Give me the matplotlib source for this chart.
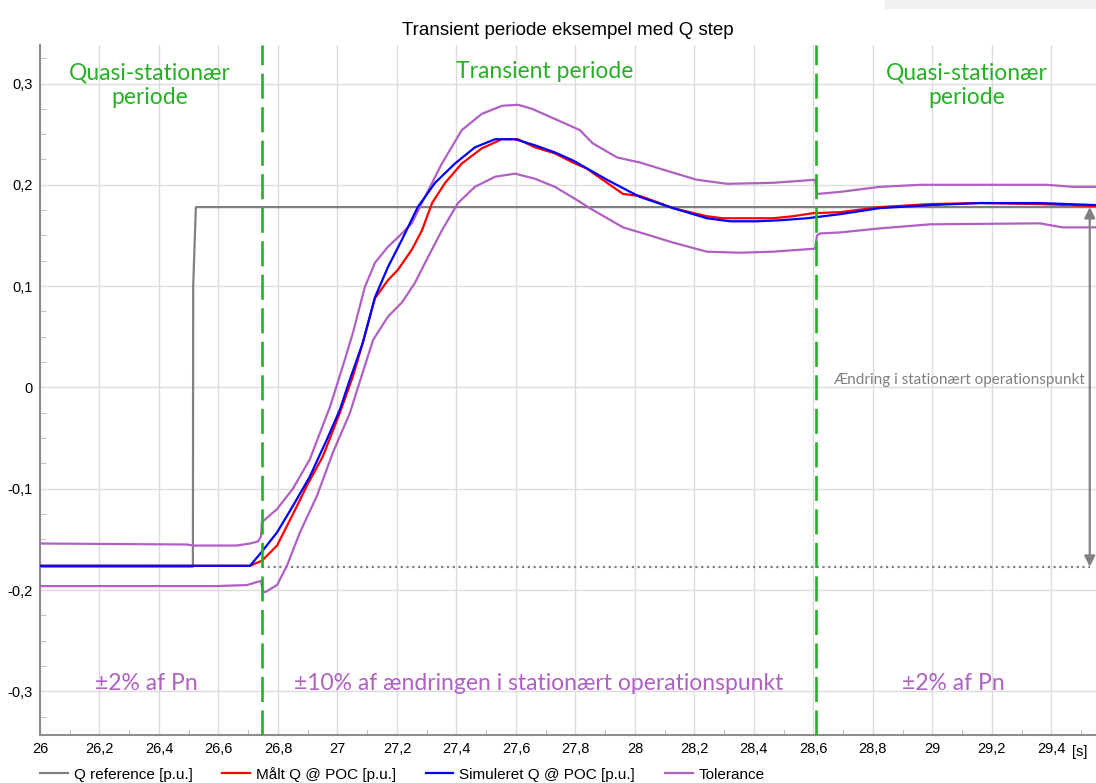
import numpy as np
import matplotlib
matplotlib.use("Agg")
import matplotlib.pyplot as plt
from matplotlib.ticker import MultipleLocator, FuncFormatter
from matplotlib.transforms import blended_transform_factory
from matplotlib.patches import Rectangle

# Q step test, time in seconds, reactive power in p.u.
t_ref = [26.0, 26.514, 26.515, 26.524, 29.55]
q_ref = [-0.177, -0.177, 0.10, 0.178, 0.178]

t_meas = [26.0, 26.706, 26.746, 26.797, 26.864, 26.897, 26.951, 27.008, 27.052, 27.085,
          27.126, 27.170, 27.203, 27.250, 27.284, 27.318, 27.362, 27.418, 27.485, 27.553,
          27.607, 27.664, 27.731, 27.792, 27.838, 27.906, 27.960, 28.017, 28.074, 28.128,
          28.242, 28.296, 28.464, 28.531, 28.598, 28.689, 28.823, 28.992, 29.160, 29.361, 29.55]
q_meas = [-0.176, -0.176, -0.171, -0.156, -0.117, -0.097, -0.068, -0.025, 0.011, 0.044,
          0.088, 0.106, 0.116, 0.136, 0.155, 0.182, 0.202, 0.221, 0.236, 0.245,
          0.245, 0.237, 0.231, 0.222, 0.216, 0.202, 0.191, 0.189, 0.183, 0.177,
          0.169, 0.167, 0.167, 0.169, 0.172, 0.173, 0.178, 0.181, 0.182, 0.181, 0.179]

t_sim = [26.0, 26.706, 26.746, 26.797, 26.850, 26.907, 26.965, 27.008, 27.042, 27.085,
         27.126, 27.170, 27.217, 27.270, 27.328, 27.395, 27.462, 27.530, 27.597, 27.664,
         27.731, 27.792, 27.906, 28.017, 28.128, 28.242, 28.320, 28.410, 28.487, 28.578,
         28.689, 28.823, 28.992, 29.160, 29.361, 29.55]
q_sim = [-0.176, -0.176, -0.162, -0.143, -0.117, -0.088, -0.051, -0.022, 0.008, 0.044,
         0.089, 0.119, 0.146, 0.178, 0.202, 0.221, 0.237, 0.245, 0.245, 0.239,
         0.232, 0.224, 0.205, 0.188, 0.177, 0.167, 0.164, 0.164, 0.165, 0.167,
         0.171, 0.177, 0.180, 0.182, 0.182, 0.180]

t_tol_hi = [26.0, 26.494, 26.515, 26.662, 26.706, 26.733, 26.743, 26.746, 26.797, 26.850,
            26.907, 26.975, 27.018, 27.052, 27.092, 27.126, 27.170, 27.203, 27.250, 27.294,
            27.351, 27.418, 27.485, 27.553, 27.607, 27.654, 27.731, 27.815, 27.858, 27.940,
            28.017, 28.128, 28.208, 28.310, 28.464, 28.606, 28.612, 28.689, 28.823, 28.958,
            29.385, 29.472, 29.55]
q_tol_hi = [-0.154, -0.155, -0.156, -0.156, -0.154, -0.152, -0.147, -0.133, -0.120, -0.100,
            -0.071, -0.019, 0.021, 0.054, 0.099, 0.123, 0.139, 0.148, 0.162, 0.188,
            0.221, 0.254, 0.270, 0.278, 0.279, 0.275, 0.265, 0.254, 0.241, 0.227,
            0.222, 0.212, 0.205, 0.201, 0.202, 0.205, 0.191, 0.193, 0.198, 0.200,
            0.200, 0.198, 0.198]

t_tol_lo = [26.0, 26.595, 26.696, 26.730, 26.743, 26.749, 26.757, 26.797, 26.830, 26.874,
            26.931, 26.985, 27.042, 27.085, 27.120, 27.170, 27.217, 27.260, 27.305, 27.351,
            27.405, 27.462, 27.530, 27.597, 27.664, 27.731, 27.805, 27.848, 27.960, 28.017,
            28.128, 28.242, 28.353, 28.464, 28.606, 28.612, 28.622, 28.689, 28.823, 28.992,
            29.361, 29.438, 29.55]
q_tol_lo = [-0.196, -0.196, -0.195, -0.192, -0.191, -0.201, -0.202, -0.195, -0.176, -0.143,
            -0.107, -0.064, -0.025, 0.015, 0.047, 0.070, 0.084, 0.103, 0.129, 0.155,
            0.182, 0.198, 0.208, 0.211, 0.206, 0.198, 0.185, 0.177, 0.158, 0.153,
            0.143, 0.134, 0.133, 0.134, 0.137, 0.150, 0.152, 0.153, 0.157, 0.161,
            0.162, 0.158, 0.158]

t_transient_start = 26.746
t_transient_end = 28.61
q_start = -0.177
q_end = 0.178

x_ticks = [26, 26.2, 26.4, 26.6, 26.8, 27, 27.2, 27.4, 27.6, 27.8,
           28, 28.2, 28.4, 28.6, 28.8, 29, 29.2, 29.4]

GREEN = "#25b025"
PURPLE = "#b060c4"
GREY = "#808080"
TEXT_FONT = ["Lato", "DejaVu Sans"]

plt.rcParams["font.family"] = ["Liberation Sans", "DejaVu Sans"]

fig = plt.figure(figsize=(10.96, 7.83), dpi=100)
ax = fig.add_axes([40 / 1096, 1 - 735 / 783, 1 - 40 / 1096, (735 - 45) / 783])

ax.plot(t_ref, q_ref, color=GREY, lw=1.6, label="Q reference [p.u.]", zorder=3)
ax.plot(t_meas, q_meas, color="#ff0000", lw=1.6, label="Målt Q @ POC [p.u.]", zorder=5)
ax.plot(t_sim, q_sim, color="#0000ff", lw=1.6, label="Simuleret Q @ POC [p.u.]", zorder=6)
ax.plot(t_tol_hi, q_tol_hi, color=PURPLE, lw=1.6, label="Tolerance", zorder=4)
ax.plot(t_tol_lo, q_tol_lo, color=PURPLE, lw=1.6, zorder=4)

# period boundaries
for tb in (t_transient_start, t_transient_end):
    ax.axvline(tb, color=GREEN, lw=1.9, dashes=(9.5, 3.2), zorder=7)

# change in operating point
arrow_t = 29.529
ax.plot([t_transient_start, arrow_t], [q_start, q_start], color=GREY, lw=1.6,
        linestyle=(0, (1, 1.6)), zorder=2)
ax.annotate("", xy=(arrow_t, q_end), xytext=(arrow_t, q_start),
            arrowprops=dict(arrowstyle="<|-|>", color=GREY, lw=1.6,
                            mutation_scale=16, shrinkA=0, shrinkB=0), zorder=8)
ax.text(29.513, 0.0074, "Ændring i stationært operationspunkt", color=GREY,
        fontsize=11, ha="right", va="center", family=TEXT_FONT)

# period labels
for tx, ty, label in [(26.370, 0.298, "Quasi-stationær\nperiode"),
                      (27.697, 0.312, "Transient periode"),
                      (29.116, 0.298, "Quasi-stationær\nperiode")]:
    ax.text(tx, ty, label, color=GREEN, fontsize=16.5, ha="center", va="center",
            linespacing=1.2, family=TEXT_FONT)

# tolerance band labels
for tx, label in [(26.358, "±2% af Pn"),
                  (27.676, "±10% af ændringen i stationært operationspunkt"),
                  (29.07, "±2% af Pn")]:
    ax.text(tx, -0.292, label, color=PURPLE, fontsize=16.5, ha="center", va="center",
            family=TEXT_FONT)

ax.xaxis.set_major_locator(MultipleLocator(0.2))
ax.xaxis.set_minor_locator(MultipleLocator(0.1))
ax.yaxis.set_major_locator(MultipleLocator(0.1))
ax.yaxis.set_minor_locator(MultipleLocator(0.025))

comma = FuncFormatter(lambda v, pos: f"{round(v, 2):g}".replace(".", ","))
ax.xaxis.set_major_formatter(comma)
ax.yaxis.set_major_formatter(comma)
ax.set_xticks(x_ticks)

ax.set_xlim(26, 29.55)
ax.set_ylim(-0.343, 0.338)

ax.tick_params(which="major", length=0, labelsize=10.5, pad=5)
ax.tick_params(which="minor", direction="in", length=4, color="#b4b4b4")
ax.grid(True, which="major", color="#dcdcdc", lw=1)
ax.set_axisbelow(True)

for side in ("top", "right"):
    ax.spines[side].set_visible(False)
for side in ("left", "bottom"):
    ax.spines[side].set_color("#8c8c8c")
    ax.spines[side].set_linewidth(1.5)

trans = blended_transform_factory(ax.transData, ax.transAxes)
ax.text(29.496, -0.014, "[s]", transform=trans, ha="center", va="top", fontsize=10.5)

ax.set_title("Transient periode eksempel med Q step", fontsize=13.5, pad=7)

fig.legend(loc="lower left", bbox_to_anchor=(0.024, -0.016), ncol=4, frameon=False,
           fontsize=11, handlelength=1.8, handletextpad=0.4, columnspacing=1.95)

fig.patches.append(Rectangle((885 / 1096, 1 - 8 / 783), 211 / 1096, 8 / 783,
                             transform=fig.transFigure, color="#f0f0f0", zorder=0))

fig.savefig("out.png", dpi=100)
